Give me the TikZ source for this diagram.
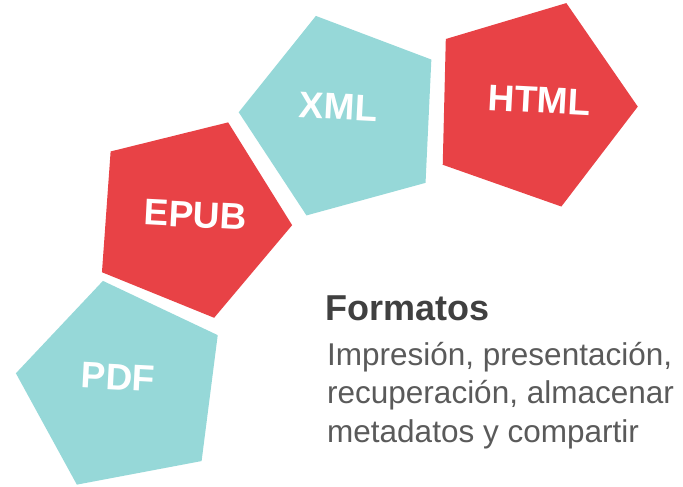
\documentclass[tikz,border=0pt]{standalone}
\usepackage{fontspec}
\setmainfont{Liberation Sans}
\usetikzlibrary{shapes.geometric,positioning}
\definecolor{fmtteal}{HTML}{96D8D8}
\definecolor{fmtred}{HTML}{E84246}
\definecolor{fmtdark}{HTML}{404040}
\definecolor{fmtgrey}{HTML}{5A5A5A}

\begin{document}
\begin{tikzpicture}[x=1pt,y=-1pt,
  penta/.style={regular polygon,regular polygon sides=5,inner sep=0pt,outer sep=0pt,draw=none},
  lbl/.style={text=white,font=\fontsize{37}{40}\selectfont\bfseries,rotate=-3,inner sep=0pt},
  head/.style={text=fmtdark,font=\fontsize{36}{40}\selectfont\bfseries,inner sep=0pt,anchor=west},
  body/.style={text=fmtgrey,font=\fontsize{31.5}{38.5}\selectfont,align=left,inner sep=0pt,anchor=north west}
]
\useasboundingbox (0,0) rectangle (683,487);
% pentagons
\node[penta,fill=fmtteal,minimum size=216pt,shape border rotate=10.7] (pdf) at (123,387) {};
\node[penta,fill=fmtred,minimum size=206pt,shape border rotate=-22.1] (epub) at (189.4,217.8) {};
\node[penta,fill=fmtteal,minimum size=210pt,shape border rotate=15.3] (xml) at (343.6,117.2) {};
\node[penta,fill=fmtred,minimum size=214pt,shape border rotate=-19.4] (html) at (530.8,104) {};
% labels
\node[lbl] (pdftxt) at (118,377) {PDF};
\node[lbl] (epubtxt) at (195.5,215) {EPUB};
\node[lbl] (xmltxt) at (338.5,106.5) {XML};
\node[lbl] (htmltxt) at (539.5,100) {HTML};
% text
\node[head] (fmt) at (325,308.5) {Formatos};
\node[body] (desc) at (327,342) {Impresión, presentación,\\recuperación, almacenar\\metadatos y compartir};
\end{tikzpicture}
\end{document}
